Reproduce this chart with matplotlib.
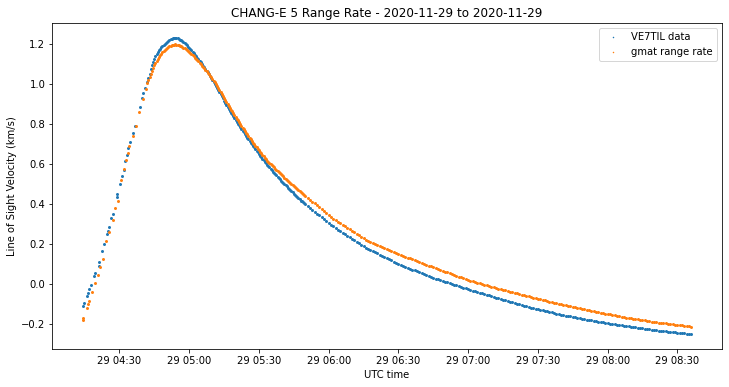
import numpy as np
import pandas as pd
import matplotlib
matplotlib.use("Agg")
import matplotlib.pyplot as plt
import matplotlib.dates as mdates

# pass start, times are minutes after this
t0 = pd.Timestamp("2020-11-29 04:00:00")

# early, sparse part of the pass
blue_sparse_min = [14.2, 14.6, 15.9, 16.3, 17.1, 17.6, 19.1, 19.4, 21.0, 21.4, 22.6, 23.3,
                   24.7, 25.1, 25.7, 26.4, 27.1, 28.8, 29.1, 30.3, 31.2, 31.8, 32.6, 33.3,
                   33.9, 34.4, 35.7, 36.5, 38.7, 39.6, 40.3, 41.0]
blue_sparse_val = [-0.107, -0.095, -0.057, -0.045, -0.025, -0.005, 0.042, 0.055, 0.092, 0.110,
                   0.167, 0.200, 0.250, 0.265, 0.285, 0.328, 0.352, 0.435, 0.450, 0.500, 0.540,
                   0.571, 0.613, 0.646, 0.680, 0.708, 0.755, 0.790, 0.885, 0.930, 0.955, 0.980]

orange_sparse_min = [14.2, 14.4, 15.9, 16.5, 17.1, 18.3, 19.6, 20.7, 21.8, 22.8, 24.3, 25.5,
                     27.1, 28.3, 29.3, 30.7, 31.8, 32.9, 33.6, 34.3, 35.7, 37.0, 38.5, 40.0, 41.3]
orange_sparse_val = [-0.178, -0.168, -0.117, -0.098, -0.083, -0.040, 0.008, 0.047, 0.085, 0.127,
                     0.213, 0.260, 0.320, 0.380, 0.413, 0.520, 0.575, 0.620, 0.655, 0.690,
                     0.740, 0.790, 0.860, 0.925, 0.975]

# dense part, one reading per minute from 04:42 to 08:36
dense_min = list(range(42, 277))

blue_dense = [
    1.010, 1.050, 1.095, 1.125, 1.150, 1.168, 1.183, 1.196, 1.206, 1.215,
    1.222, 1.227, 1.229, 1.227, 1.221, 1.213, 1.203, 1.192, 1.180, 1.167,
    1.153, 1.138, 1.123, 1.107, 1.091, 1.074, 1.057, 1.039, 1.021, 1.001,
    0.980, 0.959, 0.938, 0.917, 0.896, 0.876, 0.857, 0.838, 0.820, 0.802,
    0.784, 0.767, 0.749, 0.732, 0.715, 0.699, 0.683, 0.666, 0.650, 0.634,
    0.618, 0.604, 0.590, 0.576, 0.562, 0.549, 0.536, 0.523, 0.511, 0.499,
    0.488, 0.476, 0.464, 0.452, 0.440, 0.428, 0.417, 0.408, 0.398, 0.389,
    0.380, 0.371, 0.362, 0.352, 0.343, 0.334, 0.325, 0.316, 0.306, 0.297,
    0.288, 0.280, 0.272, 0.264, 0.257, 0.249, 0.241, 0.234, 0.226, 0.219,
    0.211, 0.203, 0.196, 0.188, 0.181, 0.175, 0.169, 0.164, 0.158, 0.153,
    0.147, 0.141, 0.136, 0.130, 0.124, 0.119, 0.113, 0.108, 0.102, 0.097,
    0.092, 0.088, 0.083, 0.078, 0.073, 0.069, 0.064, 0.059, 0.054, 0.050,
    0.045, 0.040, 0.036, 0.032, 0.028, 0.025, 0.021, 0.017, 0.013, 0.009,
    0.006, 0.002, -0.002, -0.006, -0.010, -0.013, -0.017, -0.021, -0.025, -0.028,
    -0.032, -0.035, -0.039, -0.042, -0.046, -0.049, -0.053, -0.056, -0.060, -0.063,
    -0.067, -0.070, -0.073, -0.077, -0.080, -0.084, -0.087, -0.090, -0.094, -0.097,
    -0.100, -0.104, -0.107, -0.110, -0.114, -0.117, -0.119, -0.122, -0.125, -0.128,
    -0.130, -0.133, -0.136, -0.139, -0.141, -0.144, -0.147, -0.149, -0.152, -0.155,
    -0.157, -0.159, -0.161, -0.164, -0.166, -0.168, -0.170, -0.173, -0.175, -0.177,
    -0.179, -0.181, -0.184, -0.186, -0.188, -0.190, -0.191, -0.193, -0.195, -0.197,
    -0.199, -0.200, -0.202, -0.204, -0.206, -0.208, -0.209, -0.211, -0.213, -0.214,
    -0.216, -0.217, -0.219, -0.221, -0.222, -0.224, -0.225, -0.227, -0.228, -0.230,
    -0.232, -0.233, -0.234, -0.236, -0.237, -0.238, -0.240, -0.241, -0.242, -0.243,
    -0.245, -0.246, -0.247, -0.249, -0.250,
]

orange_dense = [
    1.005, 1.035, 1.065, 1.092, 1.115, 1.135, 1.150, 1.163, 1.174, 1.183,
    1.190, 1.195, 1.197, 1.195, 1.190, 1.184, 1.177, 1.169, 1.160, 1.149,
    1.137, 1.125, 1.112, 1.098, 1.084, 1.070, 1.055, 1.040, 1.024, 1.007,
    0.989, 0.968, 0.948, 0.929, 0.910, 0.891, 0.872, 0.854, 0.836, 0.818,
    0.800, 0.782, 0.765, 0.748, 0.731, 0.715, 0.699, 0.683, 0.668, 0.653,
    0.638, 0.624, 0.610, 0.599, 0.588, 0.577, 0.567, 0.555, 0.543, 0.532,
    0.521, 0.510, 0.499, 0.489, 0.479, 0.469, 0.459, 0.450, 0.441, 0.431,
    0.422, 0.412, 0.403, 0.393, 0.384, 0.374, 0.365, 0.355, 0.346, 0.336,
    0.327, 0.319, 0.312, 0.304, 0.297, 0.289, 0.282, 0.274, 0.266, 0.259,
    0.251, 0.244, 0.236, 0.229, 0.222, 0.216, 0.210, 0.205, 0.199, 0.194,
    0.189, 0.184, 0.179, 0.174, 0.169, 0.164, 0.159, 0.154, 0.149, 0.145,
    0.141, 0.136, 0.132, 0.128, 0.123, 0.119, 0.115, 0.110, 0.106, 0.102,
    0.097, 0.093, 0.089, 0.084, 0.080, 0.076, 0.071, 0.067, 0.063, 0.059,
    0.055, 0.051, 0.046, 0.042, 0.038, 0.034, 0.030, 0.026, 0.022, 0.018,
    0.014, 0.010, 0.007, 0.004, 0.001, -0.002, -0.006, -0.009, -0.012, -0.015,
    -0.018, -0.022, -0.025, -0.028, -0.031, -0.034, -0.037, -0.040, -0.043, -0.046,
    -0.049, -0.052, -0.055, -0.058, -0.061, -0.064, -0.067, -0.070, -0.073, -0.076,
    -0.079, -0.081, -0.084, -0.087, -0.090, -0.093, -0.095, -0.098, -0.101, -0.104,
    -0.106, -0.109, -0.111, -0.114, -0.116, -0.119, -0.121, -0.124, -0.126, -0.128,
    -0.131, -0.133, -0.135, -0.138, -0.140, -0.142, -0.145, -0.147, -0.149, -0.151,
    -0.154, -0.156, -0.158, -0.160, -0.162, -0.165, -0.167, -0.169, -0.171, -0.173,
    -0.174, -0.176, -0.178, -0.180, -0.181, -0.183, -0.185, -0.187, -0.188, -0.190,
    -0.192, -0.193, -0.195, -0.196, -0.198, -0.199, -0.201, -0.202, -0.204, -0.205,
    -0.206, -0.208, -0.209, -0.211, -0.212,
]

# extra half-minute readings where the curve is steep (04:42:30 to 05:49:30)
half_min = [m + 0.5 for m in range(42, 110)]

blue_half = [
    1.030, 1.073, 1.111, 1.138, 1.159, 1.176, 1.190, 1.201,
    1.211, 1.219, 1.225, 1.228, 1.228, 1.224, 1.217, 1.208, 1.198, 1.186,
    1.174, 1.160, 1.146, 1.131, 1.115, 1.099, 1.083, 1.066, 1.048, 1.030,
    1.011, 0.991, 0.970, 0.949, 0.928, 0.907, 0.886, 0.867, 0.848, 0.829,
    0.811, 0.793, 0.776, 0.758, 0.741, 0.724, 0.707, 0.691, 0.675, 0.658,
    0.642, 0.626, 0.611, 0.597, 0.583, 0.569, 0.556, 0.543, 0.530, 0.517,
    0.505, 0.494, 0.482, 0.470, 0.458, 0.446, 0.434, 0.423, 0.413, 0.403,
]

orange_half = [
    1.020, 1.050, 1.079, 1.104, 1.125, 1.143, 1.157, 1.169,
    1.179, 1.187, 1.193, 1.196, 1.196, 1.193, 1.187, 1.181, 1.173, 1.165,
    1.155, 1.143, 1.131, 1.119, 1.105, 1.091, 1.077, 1.063, 1.048, 1.032,
    1.016, 0.999, 0.979, 0.958, 0.938, 0.920, 0.901, 0.882, 0.863, 0.845,
    0.827, 0.809, 0.791, 0.774, 0.757, 0.740, 0.723, 0.707, 0.691, 0.676,
    0.661, 0.646, 0.631, 0.617, 0.605, 0.594, 0.583, 0.572, 0.561, 0.549,
    0.538, 0.527, 0.516, 0.505, 0.494, 0.484, 0.474, 0.464, 0.455, 0.446,
]


def to_time(minutes):
    return (t0 + pd.to_timedelta(minutes, unit="m")).to_numpy()


blue_t = to_time(blue_sparse_min + dense_min + half_min)
blue_v = blue_sparse_val + blue_dense + blue_half
orange_t = to_time(orange_sparse_min + dense_min + half_min)
orange_v = orange_sparse_val + orange_dense + orange_half

fig = plt.figure(figsize=(729 / 72, 387 / 72), dpi=72)
ax = fig.add_axes([0.0717, 0.0982, 0.9183, 0.8418])

ax.plot(blue_t, blue_v, "o", ms=3, mew=0, color="#1f77b4", label="VE7TIL data")
ax.plot(orange_t, orange_v, "o", ms=3, mew=0, color="#ff7f0e", label="gmat range rate")

ax.xaxis.set_major_locator(mdates.MinuteLocator(byminute=[0, 30]))
ax.xaxis.set_major_formatter(mdates.DateFormatter("%d %H:%M"))

ax.set_title("CHANG-E 5 Range Rate - 2020-11-29 to 2020-11-29", fontsize=12)
ax.set_xlabel("UTC time")
ax.set_ylabel("Line of Sight Velocity (km/s)")
ax.legend(loc="upper right", markerscale=0.5)

fig.savefig("out.png", dpi=72)
